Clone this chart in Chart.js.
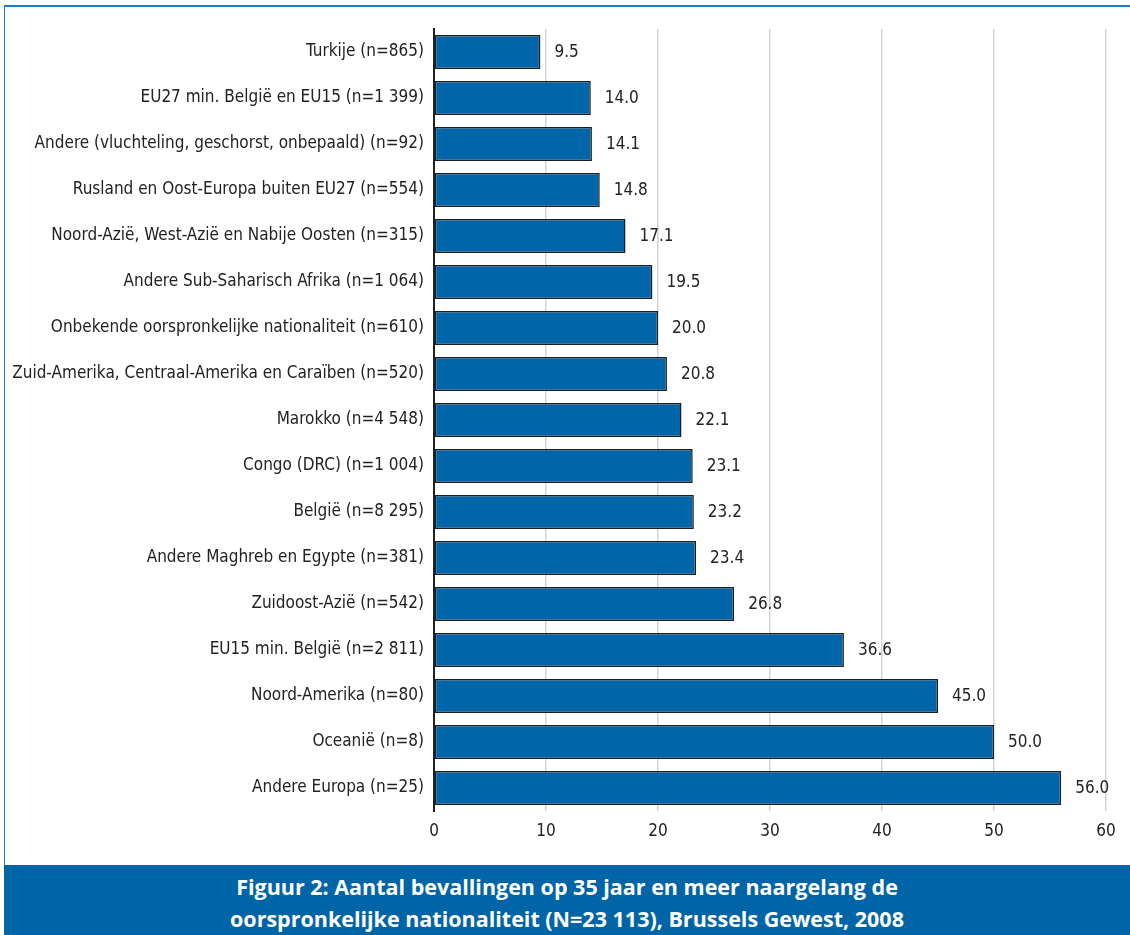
<!DOCTYPE html>
<html>
<head>
<meta charset="utf-8">
<script src="https://cdn.jsdelivr.net/npm/chart.js@4.4.0/dist/chart.umd.min.js"></script>
<style>
  body { margin: 0; background: #fff; }
  #wrap { position: relative; width: 1130px; height: 935px; overflow: hidden; }
  #topline { position: absolute; left: 4px; top: 5px; width: 1126px; height: 2px; background: #1a7acc; }
  #leftline { position: absolute; left: 4px; top: 5px; width: 1px; height: 860px; background: #1a7acc; }
  #caption {
    position: absolute; left: 4px; top: 865px; width: 1126px; height: 70px;
    background: #0065a6; color: #fff; text-align: center;
    font-family: "Open Sans", Lato, sans-serif; font-weight: bold; font-size: 21.5px; line-height: 32px;
    padding-top: 6px; box-sizing: border-box;
  }
  #chart { position: absolute; left: 0; top: 0; }
</style>
</head>
<body>
<div id="wrap">
  <canvas id="chart" width="1130" height="865"></canvas>
  <div id="topline"></div>
  <div id="leftline"></div>
  <div id="caption">Figuur 2: Aantal bevallingen op 35 jaar en meer naargelang de<br>oorspronkelijke nationaliteit (N=23 113), Brussels Gewest, 2008</div>
</div>
<script>
var categories = [
    'Turkije (n=865)',
    'EU27 min. België en EU15 (n=1 399)',
    'Andere (vluchteling, geschorst, onbepaald) (n=92)',
    'Rusland en Oost-Europa buiten EU27 (n=554)',
    'Noord-Azië, West-Azië en Nabije Oosten (n=315)',
    'Andere Sub-Saharisch Afrika (n=1 064)',
    'Onbekende oorspronkelijke nationaliteit (n=610)',
    'Zuid-Amerika, Centraal-Amerika en Caraïben (n=520)',
    'Marokko (n=4 548)',
    'Congo (DRC) (n=1 004)',
    'België (n=8 295)',
    'Andere Maghreb en Egypte (n=381)',
    'Zuidoost-Azië (n=542)',
    'EU15 min. België (n=2 811)',
    'Noord-Amerika (n=80)',
    'Oceanië (n=8)',
    'Andere Europa (n=25)'
];
var percentages = [9.5, 14.0, 14.1, 14.8, 17.1, 19.5, 20.0, 20.8, 22.1, 23.1, 23.2, 23.4, 26.8, 36.6, 45.0, 50.0, 56.0];
var xTicks = [0, 10, 20, 30, 40, 50, 60];

var labelFont = { family: "'Liberation Sans Narrow', 'DejaVu Sans Condensed', sans-serif", size: 17 };

var valueLabels = {
    id: 'valueLabels',
    afterDatasetsDraw: function (chart) {
        var ctx = chart.ctx;
        var meta = chart.getDatasetMeta(0);
        ctx.save();
        ctx.font = labelFont.size + 'px ' + labelFont.family;
        ctx.fillStyle = '#222';
        ctx.textAlign = 'left';
        ctx.textBaseline = 'middle';
        meta.data.forEach(function (bar, i) {
            ctx.fillText(percentages[i].toFixed(1), bar.x + 14, bar.y + 1);
        });
        ctx.restore();
    }
};

var ctx = document.getElementById('chart').getContext('2d');
var chart = new Chart(ctx, {
    type: 'bar',
    data: {
        labels: categories,
        datasets: [{
            data: percentages,
            backgroundColor: '#0066a9',
            borderColor: '#1e1e1e',
            borderWidth: 1.5,
            borderSkipped: false,
            barPercentage: 0.74,
            categoryPercentage: 1
        }]
    },
    options: {
        indexAxis: 'y',
        responsive: false,
        devicePixelRatio: 1,
        animation: false,
        layout: { padding: { left: 0, top: 29, right: 24, bottom: 0 } },
        plugins: {
            legend: { display: false },
            tooltip: { enabled: false }
        },
        scales: {
            x: {
                min: 0,
                max: 60,
                afterBuildTicks: function (scale) {
                    scale.ticks = xTicks.map(function (v) { return { value: v }; });
                },
                afterFit: function (scale) { scale.height = 54; },
                grid: { color: '#d2d2d2', lineWidth: 1.5, drawTicks: false },
                border: { display: false },
                ticks: { color: '#222', font: labelFont, padding: 10 }
            },
            y: {
                afterFit: function (scale) { scale.width = 434; },
                grid: { color: 'rgba(0,0,0,0)', drawTicks: false },
                border: { color: '#222', width: 2 },
                ticks: { color: '#222', font: labelFont, padding: 10 }
            }
        }
    },
    plugins: [valueLabels]
});
</script>
</body>
</html>
